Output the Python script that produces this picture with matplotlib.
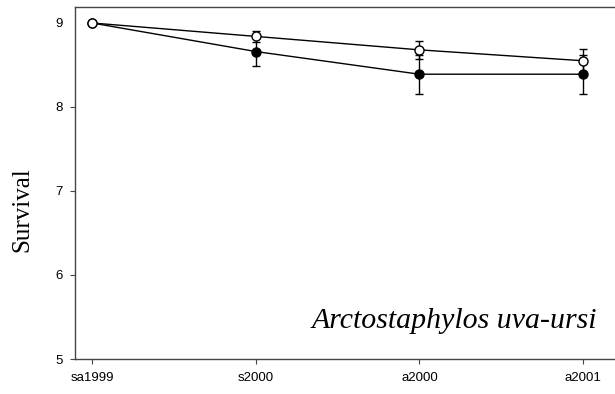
import matplotlib
matplotlib.use("Agg")
import matplotlib.pyplot as plt

# survival by census
censuses = ["sa1999", "s2000", "a2000", "a2001"]
filled = [9.0, 8.66, 8.39, 8.39]
filled_err = [0.0, 0.167, 0.23, 0.23]
opened = [9.0, 8.84, 8.68, 8.55]
opened_err = [0.0, 0.067, 0.11, 0.14]

x = list(range(len(censuses)))

W, H = 615, 394
fig = plt.figure(figsize=(W/100, H/100), dpi=100)
ax = fig.add_axes([75/W, 1 - 359/H, 1 - 75/W, (359 - 7)/H])

ax.errorbar(x, filled, yerr=filled_err, color="black", lw=1, marker="o", ms=6.5,
            mfc="black", mec="black", capsize=3, elinewidth=1, zorder=3)
ax.errorbar(x, opened, yerr=opened_err, color="black", lw=1, marker="o", ms=6.5,
            mfc="white", mec="black", mew=1, capsize=3, elinewidth=1, zorder=4)

ax.set_xlim(-0.104, 3.195)
ax.set_ylim(5, 9.19)
ax.set_yticks([5, 6, 7, 8, 9])
ax.set_xticks(x)
ax.set_xticklabels(censuses)
for lab in ax.get_xticklabels() + ax.get_yticklabels():
    lab.set_fontfamily("Liberation Sans")
    lab.set_fontsize(9.5)
ax.tick_params(direction="out", length=3.6, width=0.8, color="#444444")
ax.tick_params(axis="x", pad=6)
ax.tick_params(axis="y", pad=5)
# no tick mark at the top value
ax.yaxis.get_major_ticks()[-1].tick1line.set_visible(False)
ax.spines["right"].set_visible(False)
for s in ["left", "bottom", "top"]:
    ax.spines[s].set_linewidth(1)
    ax.spines[s].set_color("#444444")

fig.text(22/W, 1 - 210/H, "Survival", fontfamily="Liberation Serif", fontsize=18,
         rotation=90, ha="center", va="center")
fig.text(597/W, 1 - 328/H, "Arctostaphylos uva-ursi",
         fontfamily="Liberation Serif", style="italic", fontsize=21.5,
         ha="right", va="baseline")

fig.savefig("out.png", dpi=100)
